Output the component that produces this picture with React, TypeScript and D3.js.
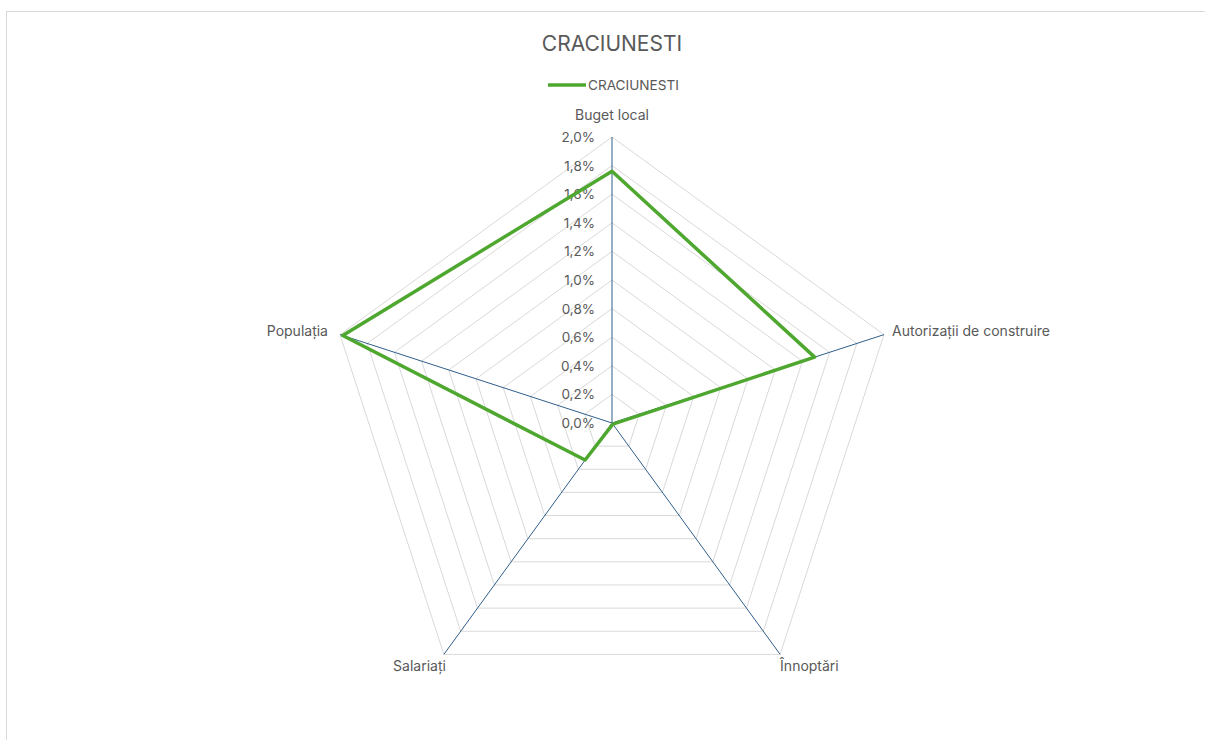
import React from "react";
import * as d3 from "d3";

const categories = ["Buget local", "Autorizații de construire", "Înnoptări", "Salariați", "Populația"];
const values = [0.0176, 0.0149, 0.0001, 0.0032, 0.0198];
const seriesName = "CRACIUNESTI";
const ticks = [0, 0.002, 0.004, 0.006, 0.008, 0.01, 0.012, 0.014, 0.016, 0.018, 0.02];

const W = 1205, H = 740;
const cx = 612, cy = 423, R = 286;
const FONT = "Inter, 'Open Sans', sans-serif";
const TXT = "#595959";

export default function App() {
  const r = d3.scaleLinear().domain([0, 0.02]).range([0, R]);
  const ang = (i: number) => -Math.PI / 2 + (i * 2 * Math.PI) / categories.length;
  const pt = (i: number, v: number): [number, number] => [cx + r(v) * Math.cos(ang(i)), cy + r(v) * Math.sin(ang(i))];
  const fmt = (v: number) => (v * 100).toFixed(1).replace(".", ",") + "%";
  const line = d3.line<[number, number]>().curve(d3.curveLinearClosed);
  const dataPts = values.map((v, i) => pt(i, v));

  const labelPos = [
    { dx: 0, dy: -17, anchor: "middle" },
    { dx: 8, dy: 1, anchor: "start" },
    { dx: 0, dy: 17, anchor: "start" },
    { dx: 2, dy: 17, anchor: "end" },
    { dx: -12, dy: 1, anchor: "end" },
  ];

  return (
    <svg width={W} height={H} style={{ position: "absolute", left: 0, top: 0, background: "#fff" }} fontFamily={FONT}>
      <rect x={6.5} y={11.5} width={1230} height={800} fill="#fff" stroke="#d9d9d9" />
      <text x={cx} y={51} textAnchor="middle" fontSize={21} fill={TXT}>{seriesName}</text>
      <line x1={548} x2={586} y1={85} y2={85} stroke="#4ea72e" strokeWidth={3.5} />
      <text x={588} y={90} fontSize={13.6} fill={TXT}>{seriesName}</text>
      {ticks.slice(1).map((t) => (
        <path key={t} d={line(categories.map((_, i) => pt(i, t))) || ""} fill="none" stroke="#d9d9d9" strokeWidth={1} />
      ))}
      {categories.map((_, i) => {
        const [x, y] = pt(i, 0.02);
        return <line key={i} x1={cx} y1={cy} x2={x} y2={y} stroke="#2f5f8a" strokeWidth={1} />;
      })}
      {ticks.map((t) => (
        <text key={t} x={cx - 17} y={cy - r(t) + 5} textAnchor="end" fontSize={13.5} fill={TXT}>{fmt(t)}</text>
      ))}
      <path d={line(dataPts) || ""} fill="none" stroke="#4ea72e" strokeWidth={3.5} strokeLinejoin="round" />
      {categories.map((c, i) => {
        const [x, y] = pt(i, 0.02);
        const lp = labelPos[i];
        return (
          <text key={c} x={x + lp.dx} y={y + lp.dy} textAnchor={lp.anchor} fontSize={14} fill={TXT}>{c}</text>
        );
      })}
    </svg>
  );
}
